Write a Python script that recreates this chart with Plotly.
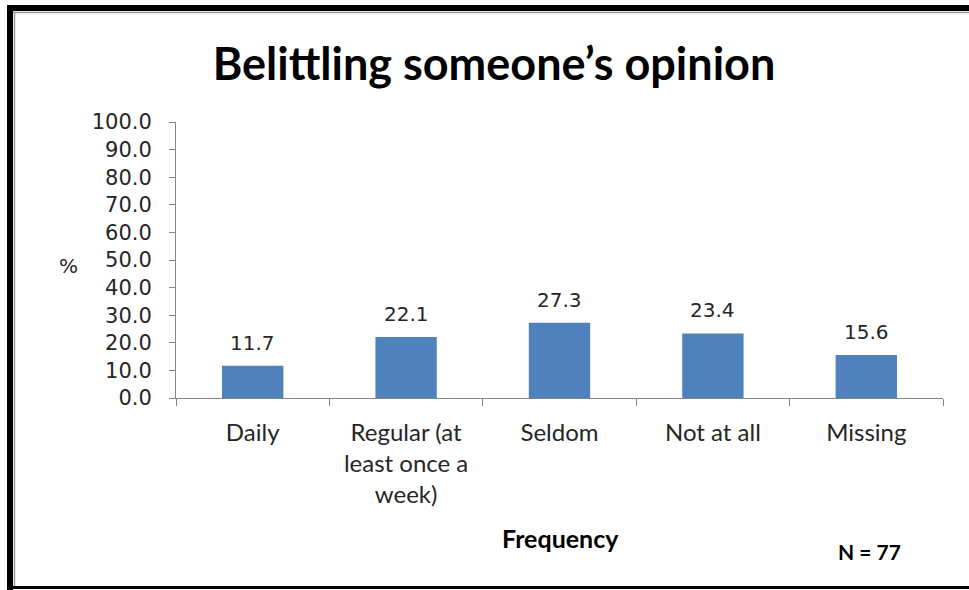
import plotly.graph_objects as go

categories = ["Daily", "Regular (at<br>least once a<br>week)", "Seldom", "Not at all", "Missing"]
values = [11.7, 22.1, 27.3, 23.4, 15.6]
y_ticks = [0, 10, 20, 30, 40, 50, 60, 70, 80, 90, 100]

# plot area in pixels: x 176..943, y 122..398
L, R, T, B = 176, 943, 122, 398
W, H = R - L, B - T
def px(x): return (x - L) / W
def py(y): return (B - y) / H

fig = go.Figure()
fig.add_trace(go.Bar(x=categories, y=values, marker_color="#4F81BD", width=0.4,
                     marker_line_width=0, showlegend=False))

for c, v in zip(categories, values):
    fig.add_annotation(x=c, y=v, text=f"{v:.1f}", showarrow=False, yanchor="bottom",
                       xanchor="center", yshift=9,
                       font=dict(family="DejaVu Sans", size=20, color="#262626"))

fig.update_layout(
    width=969, height=590,
    margin=dict(l=L, r=969 - R, t=T, b=590 - B, autoexpand=False),
    paper_bgcolor="white", plot_bgcolor="white",
    title=dict(text="<b>Belittling someone’s opinion</b>", x=494 / 969, xanchor="center",
               y=1 - 64 / 590, yanchor="middle",
               font=dict(family="Lato", size=45, color="black")),
    bargap=0.6,
)
fig.update_xaxes(showline=True, linecolor="#868686", linewidth=1, ticks="outside",
                 tickson="boundaries", ticklen=7, tickcolor="#868686",
                 tickfont=dict(family="Lato", size=24, color="#262626"),
                 ticklabelstandoff=13, showgrid=False, fixedrange=True)
fig.update_yaxes(range=[0, 100], tickvals=y_ticks, tickformat=".1f", showline=True,
                 linecolor="#868686", linewidth=1, ticks="outside", ticklen=6,
                 tickcolor="#868686", tickfont=dict(family="DejaVu Sans", size=21, color="#262626"),
                 ticklabelstandoff=13, showgrid=False, zeroline=False)

def label(x, y, text, font):
    fig.add_annotation(xref="paper", yref="paper", x=px(x), y=py(y), text=text,
                       showarrow=False, xanchor="center", yanchor="middle", font=font)

label(68, 266, "%", dict(family="DejaVu Sans", size=20, color="#262626"))
label(560, 538, "<b>Frequency</b>", dict(family="Lato", size=25, color="black"))
label(869, 551, "<b>N = 77</b>", dict(family="Lato", size=21, color="black"))

# frame
fig.add_shape(type="line", xref="paper", yref="paper", x0=px(8), x1=px(969), y0=py(8), y1=py(8),
              line=dict(color="black", width=6))
fig.add_shape(type="line", xref="paper", yref="paper", x0=px(13), x1=px(969), y0=py(12.5), y1=py(12.5),
              line=dict(color="#999999", width=1.5))
fig.add_shape(type="line", xref="paper", yref="paper", x0=px(10), x1=px(10), y0=py(5), y1=py(590),
              line=dict(color="black", width=6))
fig.add_shape(type="line", xref="paper", yref="paper", x0=px(14.5), x1=px(14.5), y0=py(12), y1=py(586),
              line=dict(color="#999999", width=1.5))
fig.add_shape(type="line", xref="paper", yref="paper", x0=px(10), x1=px(969), y0=py(587.5), y1=py(587.5),
              line=dict(color="black", width=3))

fig.write_html("out.html")
